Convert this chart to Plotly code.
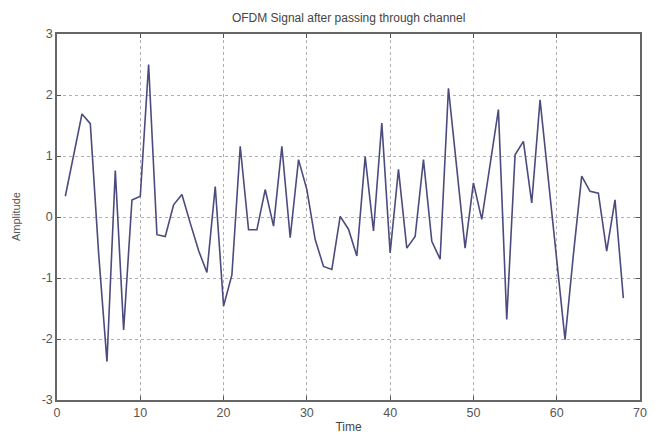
import plotly.graph_objects as go

time = list(range(1, 69))
amplitude = [
    0.34, 1.0, 1.69, 1.53, -0.6, -2.37, 0.76, -1.85, 0.28, 0.34,
    2.5, -0.29, -0.32, 0.2, 0.37, -0.1, -0.55, -0.91, 0.5, -1.46,
    -0.95, 1.16, -0.21, -0.21, 0.45, -0.15, 1.16, -0.34, 0.94, 0.45,
    -0.37, -0.81, -0.86, 0.01, -0.2, -0.64, 0.99, -0.23, 1.54, -0.59,
    0.78, -0.51, -0.32, 0.94, -0.4, -0.69, 2.11, 0.8, -0.51, 0.56,
    -0.04, 0.86, 1.76, -1.68, 1.02, 1.24, 0.23, 1.92, 0.61, -0.7,
    -2.01, -0.62, 0.67, 0.42, 0.39, -0.56, 0.28, -1.33,
]
x_ticks = [0, 10, 20, 30, 40, 50, 60, 70]
y_ticks = [-3, -2, -1, 0, 1, 2, 3]
y_tick_labels = ["-3", "-2", "-1", "0", "1", "2", "3"]

fig = go.Figure()
fig.add_trace(go.Scatter(x=time, y=amplitude, mode="lines",
                         line=dict(color="#4b4b7e", width=1.6),
                         showlegend=False))

axis_common = dict(
    showline=True, linecolor="#666666", linewidth=1.5, mirror="ticks",
    ticks="inside", ticklen=4, tickcolor="#555555", tickwidth=1,
    showgrid=True, gridcolor="#b0b0b0", griddash="dot", gridwidth=1,
    zeroline=False, automargin=False,
    tickfont=dict(family="Liberation Sans, Arial", size=12.5, color="#555555"),
)

fig.update_layout(
    width=659, height=436,
    margin=dict(l=57, r=19, t=34, b=36),
    paper_bgcolor="white", plot_bgcolor="white",
    font=dict(family="Liberation Sans, Arial", color="#444444"),
    title=dict(text="OFDM Signal after passing through channel",
               x=0.529, xanchor="center", y=1 - 18 / 436, yanchor="middle",
               font=dict(size=12, color="#444444")),
    xaxis=dict(range=[0, 70], tickvals=x_ticks,
               title=dict(text="Time", standoff=4, font=dict(size=12, color="#444444")),
               **axis_common),
    yaxis=dict(range=[-3, 3], tickvals=y_ticks, ticktext=y_tick_labels, **axis_common),
    annotations=[dict(text="Amplitude", textangle=-90, xref="paper", yref="paper",
                      x=-57 / 583 + 16 / 583, y=0.5, xanchor="center", yanchor="middle",
                      showarrow=False, font=dict(size=11, color="#555555"))],
)

fig.write_html("out.html")
